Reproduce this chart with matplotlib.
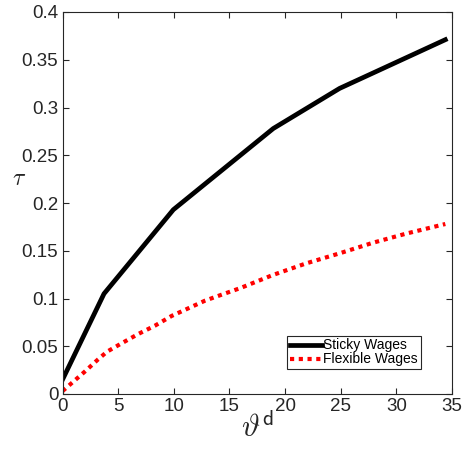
import matplotlib
matplotlib.use("Agg")
import matplotlib.pyplot as plt

plt.rcParams['font.family'] = ['Liberation Sans', 'DejaVu Sans']
plt.rcParams['mathtext.fontset'] = 'cm'

# data
x_sticky = [0, 3.73, 9.96, 18.94, 24.9, 34.4]
tau_sticky = [0.015, 0.105, 0.193, 0.278, 0.320, 0.371]

x_flex = [0, 2.0, 3.2, 4.0, 5.3, 6.8, 8.3, 9.8, 11.3, 12.8, 14.3, 16.0, 18.9,
          21.9, 24.9, 27.9, 30.9, 34.4]
tau_flex = [0.003, 0.0234, 0.0363, 0.0443, 0.053, 0.0628, 0.0715, 0.0817, 0.0897,
            0.0977, 0.104, 0.111, 0.1246, 0.1368, 0.1473, 0.1584, 0.168, 0.178]

xticks = [0, 5, 10, 15, 20, 25, 30, 35]
yticks = [0, 0.05, 0.1, 0.15, 0.2, 0.25, 0.3, 0.35, 0.4]
ytick_labels = ["0", "0.05", "0.1", "0.15", "0.2", "0.25", "0.3", "0.35", "0.4"]

fig = plt.figure(figsize=(4.62, 4.5), dpi=100)
ax = fig.add_axes([62.5 / 462, 1 - 394 / 450, (452 - 62.5) / 462, (394 - 12) / 450])

ax.plot(x_sticky, tau_sticky, color="black", lw=3.4, label="Sticky Wages")
ax.plot(x_flex, tau_flex, color="red", lw=3.0, ls=(0, (1, 1.1)), label="Flexible Wages")

ax.set_xlim(0, 35)
ax.set_ylim(0, 0.4)
ax.set_xticks(xticks)
ax.set_yticks(yticks)
ax.set_yticklabels(ytick_labels)
ax.tick_params(direction="in", top=True, right=True, labelsize=13.5, colors="#262626",
               length=4, width=0.8, pad=3)
for s in ax.spines.values():
    s.set_color("#262626")
    s.set_linewidth(0.8)

ax.set_xlabel(r"$\vartheta^{\mathsf{d}}$", fontsize=22, labelpad=-2, color="#262626")
ax.set_ylabel(r"$\tau$", fontsize=17, rotation=0, color="#262626")
ax.yaxis.set_label_coords(-0.112, 0.534)

leg = ax.legend(loc="lower right", bbox_to_anchor=(0.92, 0.065), fontsize=10,
                handlelength=2.3, handletextpad=0.1, borderpad=0.2,
                labelspacing=0.0, fancybox=False, framealpha=1, borderaxespad=0)
leg.get_frame().set_edgecolor("#262626")
leg.get_frame().set_linewidth(0.8)

fig.savefig("out.png", dpi=100)
